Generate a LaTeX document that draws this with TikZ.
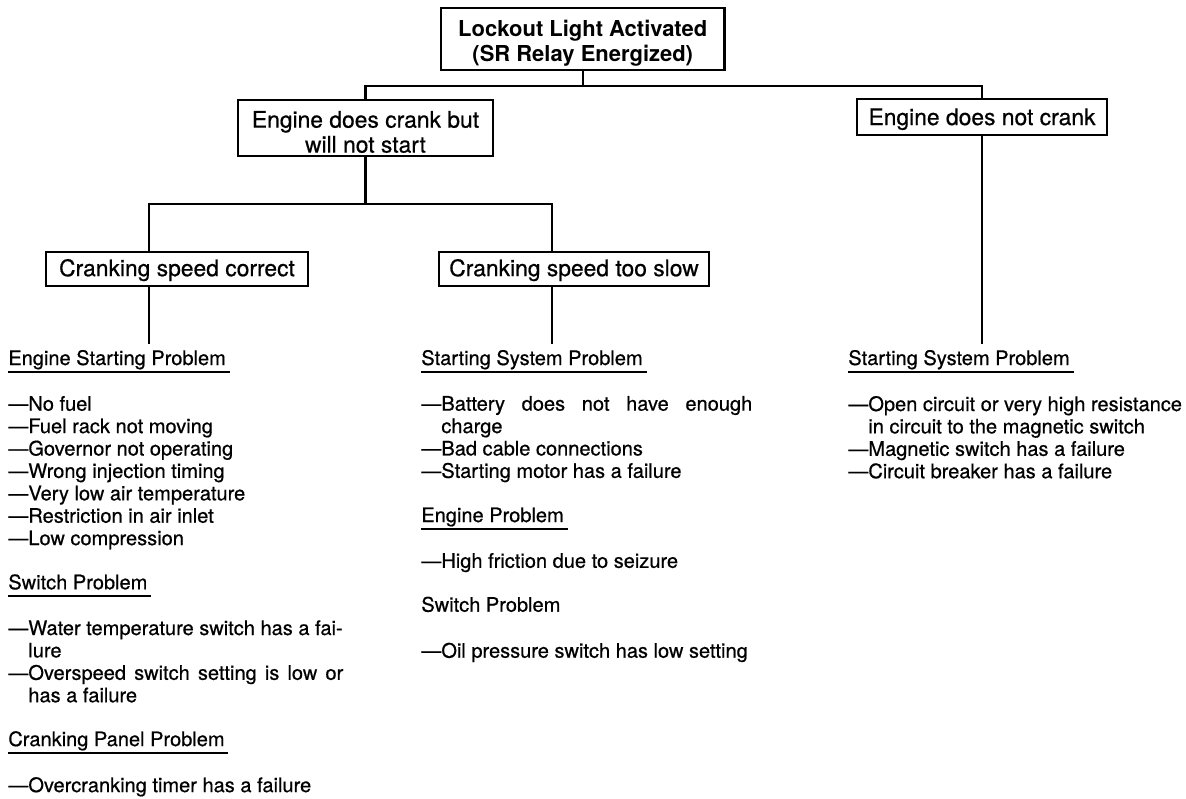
\documentclass[tikz,border=0pt]{standalone}
\usepackage{fontspec}
\setmainfont{TeX Gyre Heros}[UprightFeatures={FakeBold=0.6}]
\usetikzlibrary{positioning}

\newcommand\boxfont{\fontsize{13}{14.2}\selectfont}
\newcommand\listfont{\fontsize{11.4}{12.75}\selectfont}
\newcommand\dashgap{\hphantom{—}}
\newcommand\boxstrut[1]{\rule{0pt}{#1}}

\begin{document}
\begin{tikzpicture}[x=0.02cm,y=-0.02cm,
    box/.style={draw,line width=1.2pt,align=center,inner sep=0pt,font=\boxfont},
    link/.style={line width=1.2pt},
    head/.style={anchor=base west,inner xsep=0pt,inner ysep=3pt,font=\listfont},
    items/.style={align=left,inner sep=0pt,font=\listfont},
    rule/.style={line width=1.3pt}]
  \useasboundingbox (0,0) rectangle (1186,798);

  % the fault tree boxes
  \node[box,font=\fontsize{12.5}{14.2}\selectfont\bfseries,
        minimum width=5.67cm,minimum height=1.24cm] (lamp) at (582.75,39)
        {\boxstrut{14pt}Lockout Light Activated\\(SR Relay Energized)};
  \node[box,minimum width=5.1cm,minimum height=1.12cm] (crank) at (365.5,128)
        {\boxstrut{14pt}Engine does crank but\\will not start};
  \node[box,minimum width=5cm,minimum height=0.72cm] (nocrank) at (982,117)
        {\boxstrut{12pt}Engine does not crank};
  \node[box,minimum width=5.24cm,minimum height=0.68cm] (corr) at (177,269)
        {\boxstrut{11pt}Cranking speed correct};
  \node[box,minimum width=5.4cm,minimum height=0.68cm] (slow) at (574,269)
        {\boxstrut{11pt}Cranking speed too slow};

  % problem headings
  \node[head] (hdA)  at (8,365)    {Engine Starting Problem};
  \node[head] (hdA2) at (8,589.3)  {Switch Problem};
  \node[head] (hdA3) at (8,746.1)  {Cranking Panel Problem};
  \node[head] (hdB)  at (421,365)  {Starting System Problem};
  \node[head] (hdB2) at (421,522.1) {Engine Problem};
  \node[head] (hdB3) at (421,611.7) {Switch Problem};
  \node[head] (hdC)  at (848,365)  {Starting System Problem};

  % causes under each heading
  \node[items,below right=0.614cm and 0cm of hdA.base west] (lsA)
    {—No fuel\\—Fuel rack not moving\\—Governor not operating\\
     —Wrong injection timing\\—Very low air temperature\\
     —Restriction in air inlet\\—Low compression};
  \node[items,below right=0.614cm and 0cm of hdA2.base west] (lsA2)
    {—Water temperature switch has a fai-\\\dashgap lure\\
     \makebox[6.7cm][s]{—Overspeed switch setting is low or}\\\dashgap has a failure};
  \node[items,below right=0.614cm and 0cm of hdA3.base west] (lsA3)
    {—Overcranking timer has a failure};
  \node[items,below right=0.614cm and 0cm of hdB.base west] (lsB)
    {\makebox[6.62cm][s]{—Battery does not have enough}\\\dashgap charge\\
     —Bad cable connections\\—Starting motor has a failure};
  \node[items,below right=0.614cm and 0cm of hdB2.base west] (lsB2)
    {—High friction due to seizure};
  \node[items,below right=0.614cm and 0cm of hdB3.base west] (lsB3)
    {—Oil pressure switch has low setting};
  \node[items,below right=0.614cm and 0cm of hdC.base west] (lsC)
    {—Open circuit or very high resistance\\\dashgap in circuit to the magnetic switch\\
     —Magnetic switch has a failure\\—Circuit breaker has a failure};

  % branch lines
  \coordinate (xA) at (149,0);
  \coordinate (xB) at (552,0);
  \draw[link] (lamp.south) -- ++(0,15) coordinate (j1);
  \draw[link] (crank.north) |- (j1) -| (nocrank.north);
  \draw[link] (crank.south) -- ++(0,47) coordinate (j2);
  \draw[link] (corr.north -| xA) |- (j2) -| (slow.north -| xB);
  \draw[link] (corr.south -| xA) -- (hdA.north -| xA);
  \draw[link] (slow.south -| xB) -- (hdB.north -| xB);
  \draw[link] (nocrank.south) -- (nocrank.south |- hdC.north);

  % underlined headings
  \foreach \h in {hdA,hdA2,hdA3,hdB,hdB2,hdC}
    \draw[rule] ([yshift=-4pt]\h.base west) -- ([xshift=2pt,yshift=-4pt]\h.base east);
\end{tikzpicture}
\end{document}
